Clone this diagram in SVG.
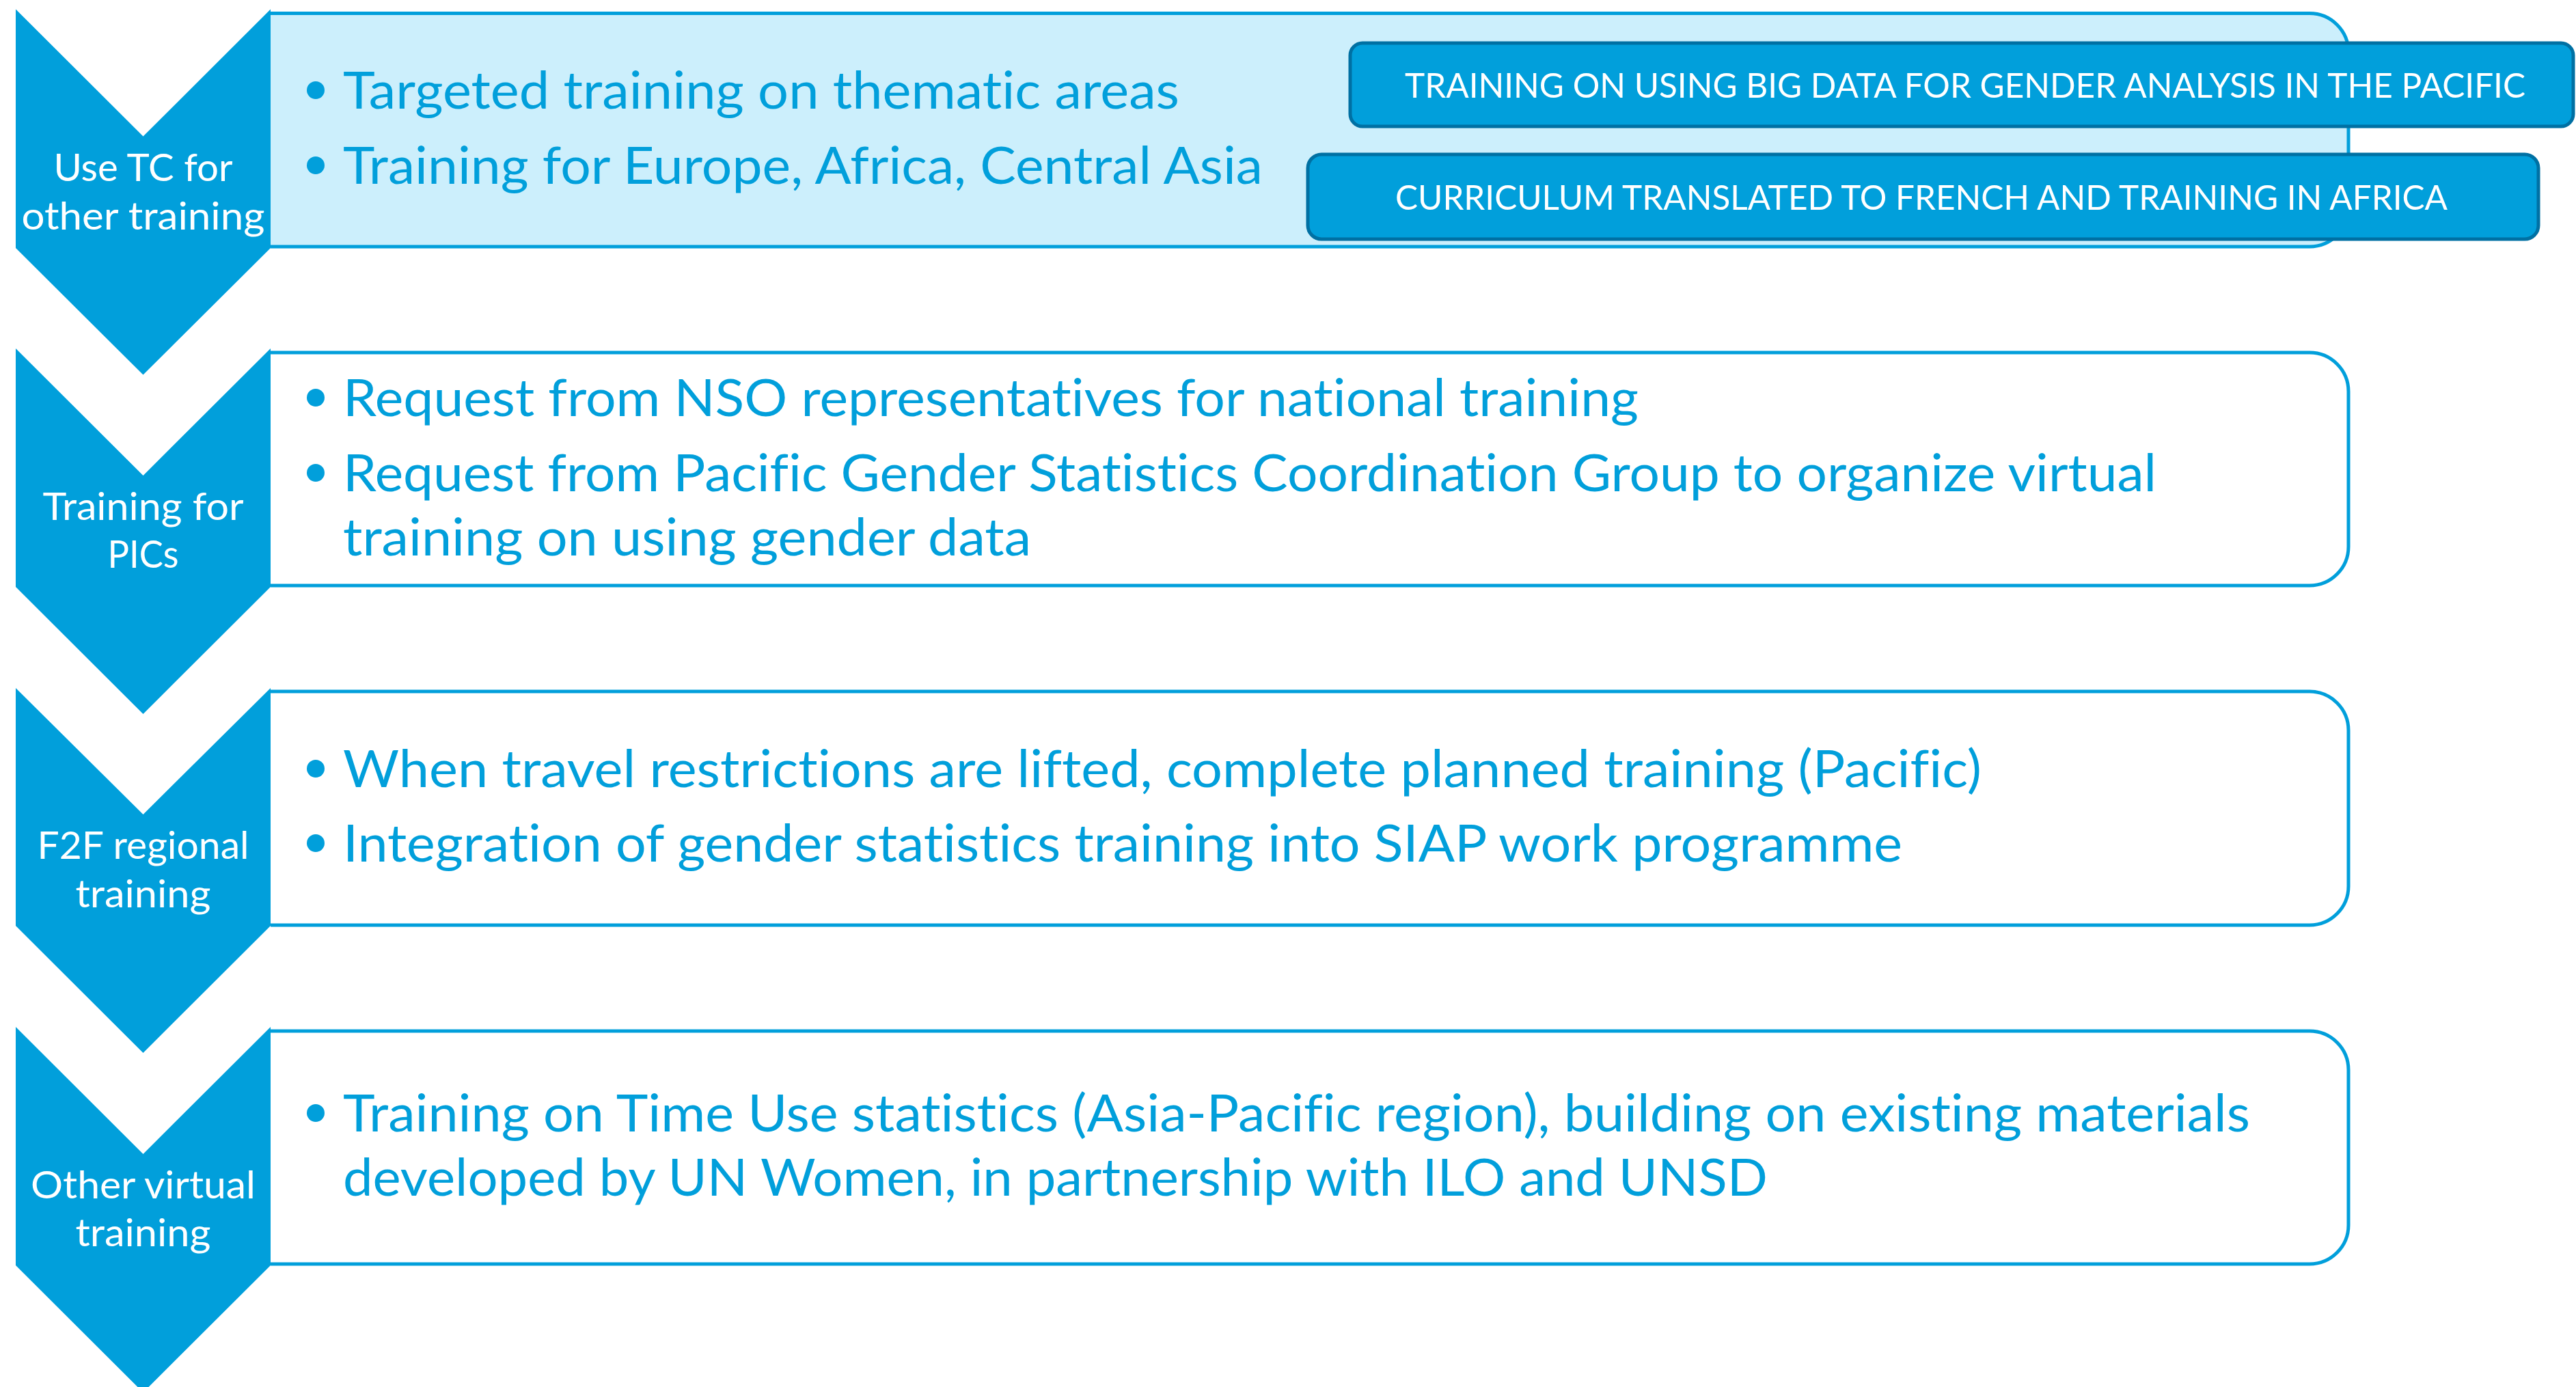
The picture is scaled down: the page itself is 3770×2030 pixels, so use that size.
<svg xmlns="http://www.w3.org/2000/svg" width="3770" height="2030" viewBox="0 0 3770 2030">
<defs>
<style>
text{font-variant-ligatures:none;font-feature-settings:"liga" 0,"dlig" 0}
.chev{fill:#019FDB;stroke:none}
.box{fill:#FFFFFF;stroke:#019FDB;stroke-width:5}
.box1{fill:#CCEFFC}
.ctext{font-family:Lato,"Open Sans","Liberation Sans",sans-serif;font-size:57px;fill:#FFFFFF;text-anchor:middle}
.btext{font-family:Lato,"Open Sans","Liberation Sans",sans-serif;font-size:75px;fill:#019FDB}
.dot{fill:#019FDB}
.call{fill:#019FDB;stroke:#0070A3;stroke-width:5}
.calltext{font-family:Lato,"Open Sans","Liberation Sans",sans-serif;font-size:50px;fill:#FFFFFF}
</style>
</defs>
<rect width="3770" height="2030" fill="#FFFFFF"/>
<g id="connectors"/>

<g id="box1">
<path class="box box1" d="M396,19.5 H3380 A57,57 0 0 1 3437,76.5 V304 A57,57 0 0 1 3380,361 H396"/>
<circle class="dot" cx="462" cy="132" r="13"/>
<text class="btext" x="502" y="159" textLength="1224" lengthAdjust="spacingAndGlyphs">Targeted training on thematic areas</text>
<circle class="dot" cx="462" cy="242" r="13"/>
<text class="btext" x="502" y="269" textLength="1346" lengthAdjust="spacingAndGlyphs">Training for Europe, Africa, Central Asia</text>
</g>

<g id="callout-pacific">
<rect class="call" x="1976" y="63" width="1790" height="122" rx="18"/>
<text class="calltext" x="2056" y="143" textLength="1640" lengthAdjust="spacingAndGlyphs">TRAINING ON USING BIG DATA FOR GENDER ANALYSIS IN THE PACIFIC</text>
</g>

<g id="callout-africa">
<rect class="call" x="1914" y="226" width="1801" height="124" rx="20"/>
<text class="calltext" x="2042" y="307" textLength="1540" lengthAdjust="spacingAndGlyphs">CURRICULUM TRANSLATED TO FRENCH AND TRAINING IN AFRICA</text>
</g>

<g id="box2">
<path class="box" d="M396,516 H3380 A57,57 0 0 1 3437,573 V800 A57,57 0 0 1 3380,857 H396"/>
<circle class="dot" cx="462" cy="582" r="13"/>
<text class="btext" x="502" y="609" textLength="1896" lengthAdjust="spacingAndGlyphs">Request from NSO representatives for national training</text>
<circle class="dot" cx="462" cy="692" r="13"/>
<text class="btext" x="502" y="719" textLength="2654" lengthAdjust="spacingAndGlyphs">Request from Pacific Gender Statistics Coordination Group to organize virtual</text>
<text class="btext" x="502" y="813" textLength="1007" lengthAdjust="spacingAndGlyphs">training on using gender data</text>
</g>

<g id="box3">
<path class="box" d="M396,1012 H3380 A57,57 0 0 1 3437,1069 V1297 A57,57 0 0 1 3380,1354 H396"/>
<circle class="dot" cx="462" cy="1125" r="13"/>
<text class="btext" x="502" y="1152" textLength="2398" lengthAdjust="spacingAndGlyphs">When travel restrictions are lifted, complete planned training (Pacific)</text>
<circle class="dot" cx="462" cy="1234" r="13"/>
<text class="btext" x="502" y="1261" textLength="2282" lengthAdjust="spacingAndGlyphs">Integration of gender statistics training into SIAP work programme</text>
</g>

<g id="box4">
<path class="box" d="M396,1509 H3380 A57,57 0 0 1 3437,1566 V1793 A57,57 0 0 1 3380,1850 H396"/>
<circle class="dot" cx="462" cy="1629" r="13"/>
<text class="btext" x="502" y="1656" textLength="2791" lengthAdjust="spacingAndGlyphs">Training on Time Use statistics (Asia-Pacific region), building on existing materials</text>
<text class="btext" x="502" y="1750" textLength="2085" lengthAdjust="spacingAndGlyphs">developed by UN Women, in partnership with ILO and UNSD</text>
</g>

<g id="chevron1">
<polygon class="chev" points="23,13.6 209.5,199.6 396,13.6 396,363 209.5,548.6 23,363"/>
<text class="ctext" x="209.5" y="265" textLength="262" lengthAdjust="spacingAndGlyphs">Use TC for</text>
<text class="ctext" x="209.5" y="336" textLength="356" lengthAdjust="spacingAndGlyphs">other training</text>
</g>

<g id="chevron2">
<polygon class="chev" points="23,510 209.5,696 396,510 396,859 209.5,1045 23,859"/>
<text class="ctext" x="209.5" y="761" textLength="294" lengthAdjust="spacingAndGlyphs">Training for</text>
<text class="ctext" x="209.5" y="831" textLength="104" lengthAdjust="spacingAndGlyphs">PICs</text>
</g>

<g id="chevron3">
<polygon class="chev" points="23,1007 209.5,1192 396,1007 396,1355 209.5,1541 23,1355"/>
<text class="ctext" x="209.5" y="1257" textLength="310" lengthAdjust="spacingAndGlyphs">F2F regional</text>
<text class="ctext" x="209.5" y="1328" textLength="198" lengthAdjust="spacingAndGlyphs">training</text>
</g>

<g id="chevron4">
<polygon class="chev" points="23,1503 209.5,1689 396,1503 396,1852 209.5,2038 23,1852"/>
<text class="ctext" x="209.5" y="1754" textLength="329" lengthAdjust="spacingAndGlyphs">Other virtual</text>
<text class="ctext" x="209.5" y="1824" textLength="198" lengthAdjust="spacingAndGlyphs">training</text>
</g>
</svg>
